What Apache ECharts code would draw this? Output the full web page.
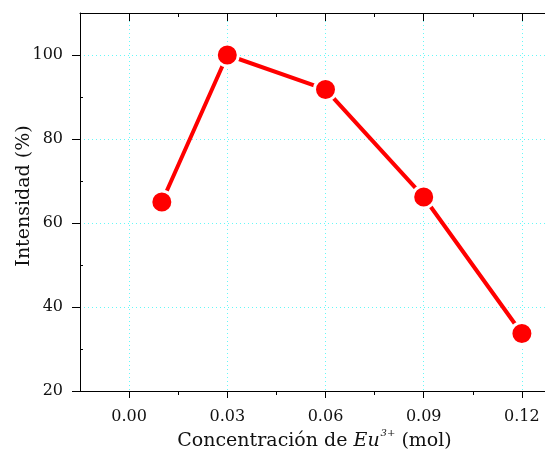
<!DOCTYPE html>
<html>
<head>
<meta charset="utf-8">
<script src="https://cdn.jsdelivr.net/npm/echarts@6/dist/echarts.min.js"></script>
<style>
  html, body { margin: 0; padding: 0; background: #fff; }
  #chart { width: 545px; height: 455px; }
</style>
</head>
<body>
<div id="chart"></div>
<script>
// Eu3+ concentration (mol) vs. relative emission intensity (%)
const concentration = [0.01, 0.03, 0.06, 0.09, 0.12];
const intensity = [65.0, 100.0, 91.8, 66.2, 33.7];

// Axis ticks
const xMajorTicks = [0.00, 0.03, 0.06, 0.09, 0.12];
const xMinorTicks = [0.015, 0.045, 0.075, 0.105];
const yMajorTicks = [20, 40, 60, 80, 100];
const yMinorTicks = [30, 50, 70, 90, 110];
const xRange = [-0.015, 0.135];
const yRange = [20, 110];

const FONT = 'DejaVu Serif';
const TEXT = '#111';
const GRIDLINE = { show: true, lineStyle: { type: [1, 3], color: '#66f8f8', width: 1 } };
const chart = echarts.init(document.getElementById('chart'));

function xAxisDef(pos, ticks, len, inside, showLine, extra) {
  return Object.assign({
    type: 'value', position: pos, min: xRange[0], max: xRange[1],
    axisLine: { show: showLine, onZero: false, lineStyle: { color: '#000', width: 1 } },
    axisTick: { show: true, customValues: ticks, length: len, inside: inside, lineStyle: { color: '#000', width: 1 } },
    axisLabel: { show: false },
    splitLine: { show: false },
    minorTick: { show: false },
    minorSplitLine: { show: false }
  }, extra || {});
}
function yAxisDef(ticks, len, inside, showLine, extra) {
  return Object.assign({
    type: 'value', position: 'left', min: yRange[0], max: yRange[1],
    axisLine: { show: showLine, onZero: false, lineStyle: { color: '#000', width: 1 } },
    axisTick: { show: true, customValues: ticks, length: len, inside: inside, lineStyle: { color: '#000', width: 1 } },
    axisLabel: { show: false },
    splitLine: { show: false },
    minorTick: { show: false },
    minorSplitLine: { show: false }
  }, extra || {});
}

chart.setOption({
  animation: false,
  backgroundColor: '#fff',
  grid: { left: 80, top: 13, width: 491, height: 378, containLabel: false, outerBoundsMode: 'none' },
  xAxis: [
    xAxisDef('bottom', xMajorTicks, 7, false, true, {
      z: 0,
      splitLine: GRIDLINE,
      axisLabel: {
        show: true, customValues: xMajorTicks, margin: 18,
        fontFamily: FONT, fontSize: 16, color: TEXT,
        formatter: v => v.toFixed(2)
      },
      name: 'Concentración de {it|Eu}{sup|3+} (mol)',
      nameLocation: 'middle', nameGap: 37, nameMoveOverlap: false,
      nameTextStyle: {
        fontFamily: FONT, fontSize: 19, color: TEXT, lineHeight: 26, padding: [0, 22, 0, 0],
        rich: {
          it: { fontFamily: FONT, fontSize: 19, fontStyle: 'italic', color: TEXT, lineHeight: 26 },
          sup: { fontFamily: FONT, fontSize: 10, fontStyle: 'italic', color: TEXT, verticalAlign: 'top', lineHeight: 26, padding: [0, 0, 0, 1] }
        }
      }
    }),
    xAxisDef('bottom', xMinorTicks, 4, false, false),
    xAxisDef('top', xMajorTicks, 8, true, true),
    xAxisDef('top', xMinorTicks, 4, true, false)
  ],
  yAxis: [
    yAxisDef(yMajorTicks, 8, false, true, {
      z: 0,
      splitLine: GRIDLINE,
      axisLabel: {
        show: true, customValues: yMajorTicks, margin: 17,
        fontFamily: FONT, fontSize: 16, color: TEXT
      },
      name: 'Intensidad (%)',
      nameLocation: 'middle', nameGap: 46, nameMoveOverlap: false,
      nameTextStyle: { fontFamily: FONT, fontSize: 19, color: TEXT, padding: [0, 0, 0, 12] }
    }),
    yAxisDef(yMinorTicks, 3, true, false)
  ],
  series: [
    {
      type: 'line', xAxisIndex: 0, yAxisIndex: 0, z: 5,
      data: concentration.map((c, i) => [c, intensity[i]]),
      symbol: 'circle', symbolSize: 22,
      lineStyle: { color: '#ff0000', width: 4 },
      itemStyle: { color: '#ff0000', borderColor: '#ffffff', borderWidth: 3 },
      emphasis: { disabled: true }
    }
  ]
});
</script>
</body>
</html>
